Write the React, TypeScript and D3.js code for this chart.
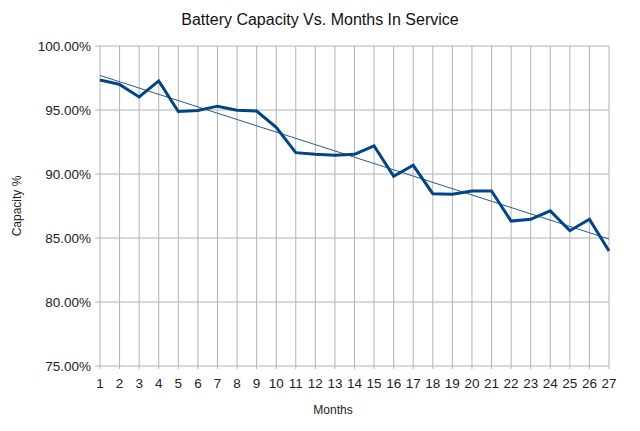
import React, { useEffect, useRef } from "react";
import * as d3 from "d3";

const months = d3.range(1, 28);
const capacity = [
  97.35, 97.0, 96.02, 97.27, 94.88, 94.96, 95.3, 94.98, 94.92, 93.65, 91.67,
  91.54, 91.47, 91.54, 92.2, 89.82, 90.68, 88.46, 88.41, 88.67, 88.68, 86.32,
  86.46, 87.12, 85.57, 86.46, 83.98,
];
const yTicks = [75, 80, 85, 90, 95, 100];

const dimensions = { width: 640, height: 431 };
const margin = { top: 46, right: 31, bottom: 65, left: 100 };

const font = "'Liberation Sans', Arial, sans-serif";

const App = () => {
  const ref = useRef<SVGSVGElement>(null);

  const graph = {
    width: dimensions.width - margin.left - margin.right,
    height: dimensions.height - margin.top - margin.bottom,
  };

  useEffect(() => {
    const svg = d3.select(ref.current);
    svg.selectAll("*").remove();

    const x = d3.scaleLinear().domain([1, 27]).range([0, graph.width]);
    const y = d3.scaleLinear().domain([75, 100]).range([graph.height, 0]);

    const g = svg
      .append("g")
      .attr("transform", `translate(${margin.left}, ${margin.top})`);

    // gridlines
    g.append("g")
      .selectAll("line.h")
      .data(yTicks)
      .join("line")
      .attr("x1", -5)
      .attr("x2", graph.width)
      .attr("y1", (d) => y(d))
      .attr("y2", (d) => y(d))
      .attr("stroke", "#b3b3b3")
      .attr("stroke-width", 1);

    g.append("g")
      .selectAll("line.v")
      .data(months)
      .join("line")
      .attr("x1", (d) => x(d))
      .attr("x2", (d) => x(d))
      .attr("y1", 0)
      .attr("y2", graph.height + 3)
      .attr("stroke", "#b3b3b3")
      .attr("stroke-width", 1);

    // y tick labels
    g.append("g")
      .selectAll("text")
      .data(yTicks)
      .join("text")
      .attr("x", -9)
      .attr("y", (d) => y(d))
      .attr("dy", "0.35em")
      .attr("text-anchor", "end")
      .attr("font-family", font)
      .attr("font-size", 13.5)
      .attr("fill", "#222")
      .text((d) => d3.format(".2f")(d) + "%");

    // x tick labels
    g.append("g")
      .selectAll("text")
      .data(months)
      .join("text")
      .attr("x", (d) => x(d))
      .attr("y", graph.height + 22)
      .attr("text-anchor", "middle")
      .attr("font-family", font)
      .attr("font-size", 13.5)
      .attr("fill", "#222")
      .text((d) => d);

    // trendline from linear regression
    const mx = d3.mean(months) as number;
    const my = d3.mean(capacity) as number;
    const slope =
      d3.sum(months, (m, i) => (m - mx) * (capacity[i] - my)) /
      d3.sum(months, (m) => (m - mx) ** 2);
    const intercept = my - slope * mx;
    g.append("line")
      .attr("x1", x(1))
      .attr("y1", y(intercept + slope))
      .attr("x2", x(27))
      .attr("y2", y(intercept + slope * 27))
      .attr("stroke", "#2a5b8c")
      .attr("stroke-width", 1);

    // data line
    const line = d3
      .line<number>()
      .x((_, i) => x(months[i]))
      .y((d) => y(d));
    g.append("path")
      .datum(capacity)
      .attr("fill", "none")
      .attr("stroke", "#004586")
      .attr("stroke-width", 3)
      .attr("stroke-linejoin", "miter")
      .attr("d", line);

    // title
    svg
      .append("text")
      .attr("x", 320)
      .attr("y", 25)
      .attr("text-anchor", "middle")
      .attr("font-family", font)
      .attr("font-size", 16)
      .attr("fill", "#111")
      .text("Battery Capacity Vs. Months In Service");

    // axis titles
    svg
      .append("text")
      .attr("x", 333)
      .attr("y", 414)
      .attr("text-anchor", "middle")
      .attr("font-family", font)
      .attr("font-size", 12)
      .attr("fill", "#222")
      .text("Months");

    svg
      .append("text")
      .attr("transform", `translate(21, ${margin.top + graph.height / 2}) rotate(-90)`)
      .attr("text-anchor", "middle")
      .attr("font-family", font)
      .attr("font-size", 12)
      .attr("fill", "#222")
      .text("Capacity %");
  }, []);

  return (
    <svg
      ref={ref}
      width={dimensions.width}
      height={dimensions.height}
      style={{ position: "absolute", left: 0, top: 0, background: "#fff" }}
    />
  );
};

export default App;
